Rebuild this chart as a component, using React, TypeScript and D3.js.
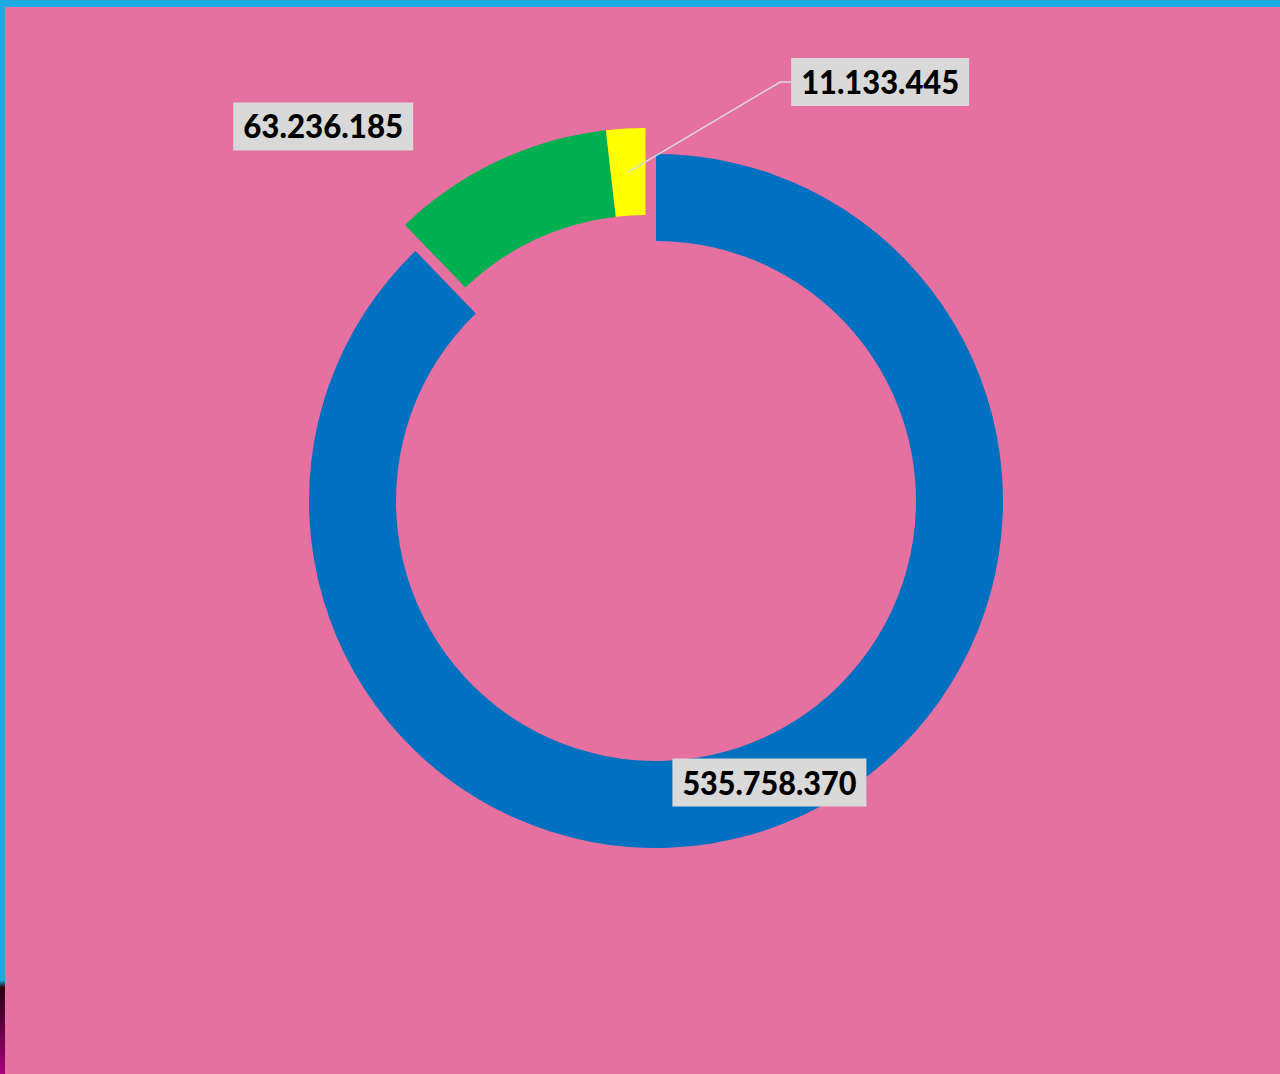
import React, { useEffect, useRef } from 'react';
import * as d3 from 'd3';

// Slice names, values and colours (clockwise from 12 o'clock)
const categories = ['Blue', 'Green', 'Yellow'];
const values = [535758370, 63236185, 11133445];
const colors = ['#0070C0', '#00B050', '#FFFF00'];
const valueLabels = ['535.758.370', '63.236.185', '11.133.445'];

// Slices pulled out of the ring together
const exploded = ['Green', 'Yellow'];

const W = 1280;
const H = 1074;

const App = () => {
  const svgRef = useRef<SVGSVGElement>(null);

  useEffect(() => {
    const svg = d3.select(svgRef.current);
    svg.selectAll('*').remove();

    // --- Background + frame ---
    const defs = svg.append('defs');
    const grad = defs.append('linearGradient').attr('id', 'edgeGrad')
      .attr('x1', 0).attr('y1', 0).attr('x2', 0).attr('y2', 1);
    grad.append('stop').attr('offset', '0%').attr('stop-color', '#1EABE3');
    grad.append('stop').attr('offset', '8%').attr('stop-color', '#2a0010');
    grad.append('stop').attr('offset', '100%').attr('stop-color', '#A8007E');

    svg.append('rect').attr('width', W).attr('height', H).attr('fill', '#1EABE3');
    svg.append('rect').attr('x', 0).attr('y', 980).attr('width', 5).attr('height', H - 980).attr('fill', 'url(#edgeGrad)');
    svg.append('rect').attr('x', 5).attr('y', 7).attr('width', W - 5).attr('height', H - 7).attr('fill', '#E670A0');

    // --- Donut ---
    const cx = 656, cy = 501;
    const outerR = 347, innerR = 260;
    const explodeDist = 28;

    const data = categories.map((c, i) => ({ name: c, value: values[i], color: colors[i], label: valueLabels[i] }));
    const pie = d3.pie<any>().value(d => d.value).sort(null);
    const arcs = pie(data);
    const arc = d3.arc<any>().innerRadius(innerR).outerRadius(outerR);

    // combined mid angle of the exploded group
    const grp = arcs.filter(a => exploded.includes(a.data.name));
    const gMid = (d3.min(grp, a => a.startAngle)! + d3.max(grp, a => a.endAngle)!) / 2;
    const offX = Math.sin(gMid) * explodeDist;
    const offY = -Math.cos(gMid) * explodeDist;
    const shift = (a: any) => exploded.includes(a.data.name) ? [offX, offY] : [0, 0];

    const g = svg.append('g').attr('transform', `translate(${cx},${cy})`);
    g.selectAll('path')
      .data(arcs)
      .join('path')
        .attr('d', arc)
        .attr('fill', d => d.data.color)
        .attr('transform', d => `translate(${shift(d)})`);

    // --- Data labels ---
    const centroid = (a: any) => {
      const [x, y] = arc.centroid(a);
      const [dx, dy] = shift(a);
      return [x + dx, y + dy];
    };
    // label centre offsets from the slice centroid
    const labelOffsets: Record<string, [number, number]> = {
      Blue: [0, 0],
      Green: [-193, -74],
      Yellow: [252, -90],
    };
    const textWidths: Record<string, number> = { Blue: 174, Green: 160, Yellow: 158 };

    arcs.forEach(a => {
      const [px, py] = centroid(a);
      const [ox, oy] = labelOffsets[a.data.name];
      const lx = px + ox, ly = py + oy;
      const bw = textWidths[a.data.name] + 20, bh = 48;

      if (a.data.name === 'Yellow') {
        g.append('polyline')
          .attr('points', `${px},${py} ${lx - bw / 2 - 11},${ly} ${lx - bw / 2},${ly}`)
          .attr('fill', 'none')
          .attr('stroke', '#D9D9D9')
          .attr('stroke-width', 1.5);
      }

      g.append('rect')
        .attr('x', lx - bw / 2).attr('y', ly - bh / 2)
        .attr('width', bw).attr('height', bh)
        .attr('fill', '#D9D9D9');
      g.append('text')
        .attr('x', lx).attr('y', ly + 12)
        .attr('text-anchor', 'middle')
        .attr('textLength', textWidths[a.data.name])
        .attr('lengthAdjust', 'spacingAndGlyphs')
        .style('font-family', 'Lato, "Open Sans", sans-serif')
        .style('font-weight', 900)
        .style('font-size', '33px')
        .style('fill', '#000')
        .text(a.data.label);
    });
  }, []);

  return (
    <svg ref={svgRef} width={W} height={H} style={{ position: 'absolute', left: 0, top: 0, display: 'block' }}></svg>
  );
};

export default App;
